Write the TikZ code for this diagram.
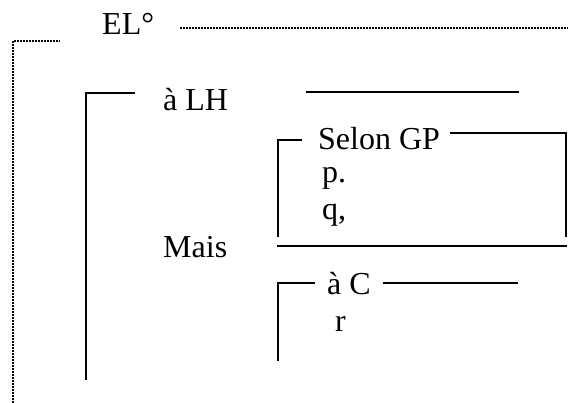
\documentclass[tikz,border=0pt]{standalone}
\usepackage{fontspec}
\setmainfont{Liberation Serif}

\begin{document}
\begin{tikzpicture}
[x=1pt,y=-1pt,
  labelText/.style={anchor=base west,inner sep=0pt,font=\fontsize{32}{38}\selectfont},%
  ruleLine/.style={line width=2.2pt},%
  dotLine/.style={line width=1.6pt,dash pattern=on 1.6pt off 1.4pt}]
\useasboundingbox (0,0) rectangle (568,403);
%% texts
\foreach \name/\x/\y/\txt in {
  EL/102/35/{EL°}, LH/163/111/{à LH}, GP/318/150/{Selon GP},
  p/322/183/{p.}, q/322/220/{q,}, Mais/163/258/{Mais},
  C/327/295/{à C}, r/335/332/{r}}
{
  \node (\name) at (\x,\y) [labelText] {\txt};
}
%% dotted frame
\coordinate (dotTop) at (13,41);
\draw[dotLine] (13,403) -- (dotTop) -- (60,41);
\draw[dotLine] (180,28) -- (568,28);
%% solid rules
\draw[ruleLine] (86,380) -- (86,93) -- (135,93);
\draw[ruleLine] (306,92) -- (519,92);
\draw[ruleLine] (278,237) -- (278,140) -- (302,140);
\draw[ruleLine] (450,133) -- (566,133) -- (566,237);
\draw[ruleLine] (277,246) -- (567,246);
\draw[ruleLine] (278,361) -- (278,283) -- (315,283);
\draw[ruleLine] (383,283) -- (518,283);
\end{tikzpicture}
\end{document}
